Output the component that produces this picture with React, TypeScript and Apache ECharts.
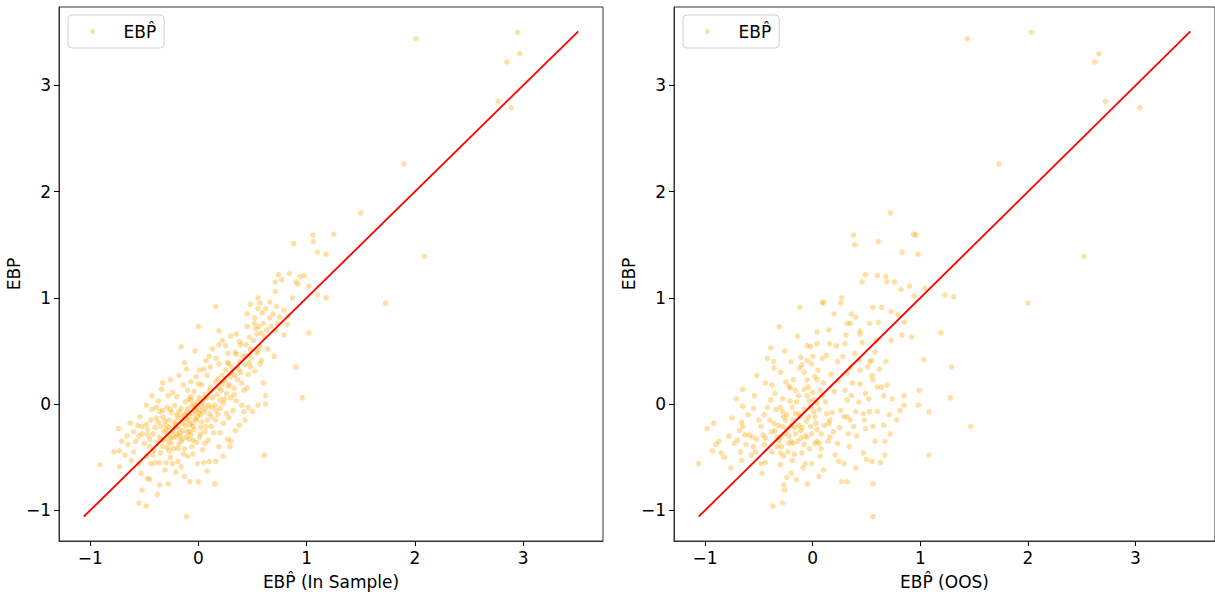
import React, { useEffect, useRef } from "react";
import * as echarts from "echarts";

const HAT = "EB" + "P\u0302";
const seriesName = HAT;
const xNames = [HAT + " (In Sample)", HAT + " (OOS)"];
const yName = "EBP";
const tickValues = [-1, 0, 1, 2, 3];
const axisMin = -1.2885;
const axisMax = 3.7385;
const lineEnds: [number, number][] = [[-1.06, -1.06], [3.51, 3.51]];

const inSamplePoints: [number, number][] = [
  [2.95,3.50],[2.01,3.44],[2.85,3.22],[2.97,3.30],[2.77,2.85],[2.89,2.79],[1.90,2.26],[1.50,1.80],[2.09,1.39],[1.73,0.95],
  [1.25,1.60],[1.06,1.59],[1.06,1.53],[0.88,1.51],[1.10,1.43],[1.18,1.41],[0.74,1.22],[0.84,1.23],[0.94,1.20],[0.98,1.21],
  [0.71,1.15],[0.77,1.17],[0.90,1.15],[0.92,1.13],[1.02,1.11],[0.71,1.06],[1.10,1.03],[1.18,1.00],[0.87,1.00],[0.55,1.00],
  [0.16,0.92],[0.48,0.94],[0.57,0.95],[0.55,0.90],[0.62,0.90],[0.72,0.92],[0.79,0.88],[0.59,0.86],[0.66,0.81],[0.52,0.81],
  [0.75,0.82],[0.83,0.83],[0.00,0.73],[0.45,0.73],[0.52,0.76],[0.56,0.73],[0.60,0.76],[0.53,0.71],[0.63,0.70],[0.67,0.73],
  [0.71,0.69],[0.47,0.63],[0.58,0.67],[0.79,0.65],[1.02,0.67],[0.19,0.69],[0.30,0.64],[-0.16,0.54],[-0.03,0.50],[0.19,0.56],
  [0.25,0.55],[0.38,0.59],[0.39,0.56],[0.44,0.56],[0.34,0.49],[0.35,0.47],[0.48,0.52],[0.55,0.50],[0.57,0.54],[0.44,0.46],
  [0.54,0.48],[-0.13,0.39],[0.10,0.45],[0.16,0.43],[0.07,0.41],[0.19,0.38],[0.27,0.39],[0.28,0.38],[0.38,0.40],[0.47,0.39],
  [0.48,0.35],[0.58,0.41],[0.90,0.35],[-0.11,0.33],[0.01,0.32],[0.11,0.35],[0.25,0.32],[0.31,0.30],[0.39,0.30],[0.46,0.28],
  [-0.18,0.27],[0.08,0.27],[0.22,0.27],[0.30,0.26],[0.36,0.23],[-0.26,0.23],[-0.07,0.21],[0.00,0.19],[0.16,0.21],[0.22,0.19],
  [-0.14,0.18],[0.03,0.18],[0.19,0.15],[0.27,0.17],[0.33,0.15],[0.42,0.13],[0.62,0.08],[-0.34,0.14],[-0.24,0.11],[-0.10,0.13],
  [-0.04,0.12],[0.10,0.12],[-0.43,0.08],[-0.20,0.07],[-0.07,0.07],[0.96,0.06],
  [-0.91,-0.57],[-0.78,-0.45],[-0.73,-0.44],[-0.74,-0.23],[-0.63,-0.18],[-0.54,-0.12],[-0.58,-0.35],[-0.65,-0.38],[-0.62,-0.53],[-0.73,-0.59],
  [-0.52,-0.21],[-0.48,-0.19],[-0.52,-0.28],[-0.47,-0.29],[-0.42,-0.28],[-0.39,-0.03],[-0.36,-0.07],[-0.29,-0.03],[-0.48,-0.01],[-0.33,-0.12],
  [-0.39,-0.13],[-0.27,-0.15],[-0.22,-0.17],[-0.35,-0.21],[-0.30,-0.24],[-0.24,-0.26],[-0.36,-0.31],[-0.31,-0.33],[-0.25,-0.37],[-0.21,-0.31],
  [-0.18,-0.23],[-0.15,-0.18],[-0.10,-0.15],[-0.13,-0.10],[-0.18,-0.07],[-0.10,-0.04],[-0.05,-0.09],[-0.02,-0.03],[0.01,-0.06],[-0.07,0.04],
  [-0.01,0.02],[0.04,0.01],[0.07,-0.04],[0.02,-0.10],[-0.02,-0.15],[-0.05,-0.21],[-0.08,-0.26],[-0.11,-0.31],[-0.16,-0.35],[-0.05,-0.34],
  [0.01,-0.31],[0.06,-0.37],[-0.19,-0.42],[-0.27,-0.44],[-0.35,-0.46],[-0.42,-0.48],[-0.48,-0.49],[-0.55,-0.56],[-0.44,-0.56],[-0.36,-0.55],
  [-0.30,-0.55],[-0.24,-0.56],[-0.19,-0.54],[-0.10,-0.49],[-0.01,-0.56],[0.05,-0.55],[0.10,-0.54],[0.16,-0.54],[0.23,-0.49],[0.29,-0.40],
  [0.30,-0.35],[0.38,-0.20],[0.43,-0.15],[0.50,-0.07],[0.55,-0.01],[-0.53,-0.65],[-0.47,-0.70],[-0.45,-0.71],[-0.52,-0.81],[-0.36,-0.76],
  [-0.21,-0.64],[-0.13,-0.68],[-0.08,-0.73],[0.00,-0.73],[0.15,-0.75],[-0.55,-0.93],[-0.48,-0.96],[-0.11,-1.06],[0.06,-0.26],[0.12,-0.21],
  [0.16,-0.15],[0.23,-0.18],[0.26,-0.09],[0.10,-0.09],[0.16,-0.06],[0.32,-0.06],[0.40,-0.01],[0.46,-0.03],[0.15,-0.01],[0.23,0.01],
  [0.62,0.00],[0.61,-0.48],[-0.71,-0.35],[0.42,-0.07],[0.27,-0.33],
  [-0.30,-0.20],[-0.28,-0.28],[-0.26,-0.32],[-0.22,-0.22],[-0.20,-0.28],[-0.17,-0.30],[-0.14,-0.25],[-0.12,-0.20],[-0.10,-0.26],[-0.08,-0.12],
  [-0.06,-0.18],[-0.03,-0.14],[0.00,-0.08],[0.03,-0.02],[0.05,0.05],[-0.04,0.00],[-0.15,-0.12],[-0.20,-0.10],[-0.25,-0.08],[-0.32,-0.26],
  [-0.38,-0.36],[-0.40,-0.22],[-0.33,-0.40],[-0.28,-0.36],[-0.18,-0.38],[-0.13,-0.42],[-0.06,-0.40],[0.02,-0.22],[0.08,-0.15],[0.12,-0.03],
  [0.20,0.04],[0.26,0.10],[0.30,0.06],[0.35,0.03],[0.18,-0.10],[-0.45,-0.40],[-0.55,-0.30],[-0.60,-0.45],[-0.43,-0.05],[0.08,0.06],
  [-0.45,-0.33],[-0.41,-0.44],[-0.37,-0.17],[-0.34,-0.34],[-0.31,-0.16],[-0.29,-0.41],[-0.27,-0.22],[-0.26,-0.05],[-0.24,-0.31],[-0.23,-0.42],
  [-0.21,-0.19],[-0.19,-0.13],[-0.17,-0.27],[-0.16,-0.04],[-0.15,-0.33],[-0.14,-0.47],[-0.12,-0.14],[-0.11,-0.08],[-0.09,-0.33],[-0.08,-0.19],
  [-0.07,-0.29],[-0.06,-0.02],[-0.04,-0.24],[-0.03,-0.06],[-0.02,-0.36],[-0.01,-0.12],[0.01,0.06],[0.02,-0.28],[0.03,-0.17],[0.05,-0.07],
  [0.06,0.09],[0.07,-0.21],[0.09,-0.01],[0.11,0.16],[0.12,-0.12],[0.13,0.06],[0.14,-0.27],[0.17,0.09],[0.18,0.24],[0.20,-0.04],
  [0.21,0.13],[0.24,0.05],[0.25,0.22],[0.28,-0.13],[0.29,0.18],[0.31,0.35],[0.33,0.09],[0.34,0.27],[0.37,0.33],[0.40,0.20],
  [0.41,0.45],[0.43,0.37],[0.45,0.15],[0.49,0.44],[0.51,0.60],[0.52,0.31],[0.54,0.66],[0.57,0.38],[0.61,0.63],[0.64,0.52],
  [0.66,0.96],[0.69,0.85],[0.73,0.76],[0.35,0.66],[0.27,0.48],[0.22,0.60],[0.13,0.52],[0.05,0.33],[-0.02,0.26],[-0.09,0.05],
  [-0.12,0.02],[-0.22,-0.01],[-0.28,0.08],[-0.33,-0.06],[-0.37,0.03],[-0.44,-0.15],[-0.47,-0.24],[-0.50,-0.37],[-0.56,-0.20],[-0.60,-0.26],
  [-0.66,-0.30],[-0.68,-0.48],[-0.40,-0.55],[-0.31,-0.62],[-0.26,-0.50],[-0.16,-0.59],[-0.05,-0.47],[0.04,-0.43],[0.09,-0.34],[0.19,-0.40],
  [0.20,-0.27],[0.34,-0.25],[-0.38,-0.85],[-0.28,-0.75],[0.08,-0.63],[-0.33,0.20],[0.60,0.20],[0.70,0.45],[0.82,0.75],[0.45,0.85]
];

const oosPoints: [number, number][] = [
  [2.03,3.50],[1.44,3.44],[2.66,3.30],[2.62,3.22],[2.72,2.85],[3.04,2.79],[1.73,2.26],[2.52,1.39],[2.00,0.95],[0.94,1.60],
  [0.96,1.59],[0.83,1.43],[0.98,1.41],[0.82,1.08],[0.90,1.11],[0.94,1.02],[1.04,1.09],[1.23,1.03],[1.31,1.01],[0.85,0.77],
  [0.83,0.65],[0.92,0.63],[1.19,0.67],[1.03,0.42],[1.29,0.35],[0.85,0.08],[0.99,0.13],[0.85,-0.01],[0.98,-0.01],[0.81,-0.06],
  [1.08,-0.07],[1.28,0.06],[1.47,-0.21],[1.08,-0.48],
  [0.72,1.80],[0.38,1.59],[0.39,1.50],[0.61,1.53],[0.49,1.22],[0.60,1.21],[0.68,1.20],[0.76,1.15],[0.79,0.84],
  [-1.06,-0.56],[-0.98,-0.23],[-0.92,-0.18],[-0.90,-0.38],[-0.87,-0.35],[-0.93,-0.44],[-0.85,-0.46],[-0.76,-0.60],[-0.75,-0.13],[-0.71,0.05],
  [-0.65,0.14],[-0.65,-0.02],[-0.73,-0.37],[-0.70,-0.34],[-0.66,-0.17],[-0.65,-0.21],[-0.63,-0.29],[-0.59,-0.29],[-0.56,-0.31],[-0.67,-0.45],
  [-0.66,-0.53],[-0.55,-0.40],[-0.53,-0.45],[-0.55,-0.04],[-0.54,0.08],[-0.52,0.27],[-0.47,-0.65],[-0.48,-0.56],[-0.44,-0.55],[-0.46,-0.29],
  [-0.44,-0.32],[-0.45,-0.38],[-0.48,-0.21],[-0.45,-0.10],[-0.42,-0.03],[-0.39,0.04],[-0.42,0.43],[-0.39,0.53],[-0.36,0.40],[-0.36,0.34],
  [-0.31,0.73],[-0.37,-0.96],[-0.28,-0.93],[-0.38,0.18],[-0.35,0.10],[-0.36,-0.18],[-0.38,-0.26],[-0.33,-0.31],[-0.33,-0.40],[-0.30,-0.46],
  [-0.27,-0.49],[-0.30,-0.57],[-0.26,0.50],[-0.25,0.21],[-0.22,0.17],[-0.21,0.15],[-0.30,-0.03],[-0.28,-0.07],[-0.27,-0.12],[-0.28,-0.21],
  [-0.24,-0.24],[-0.30,-0.31],[-0.31,-0.35],[-0.22,-0.37],[-0.19,-0.53],[-0.24,-0.69],[-0.27,-0.76],[-0.26,-0.81],[-0.15,-0.71],[-0.14,0.64],
  [-0.12,0.91],[-0.12,0.34],[-0.10,0.37],[-0.11,0.44],[-0.18,0.23],[-0.16,0.13],[-0.13,0.08],[-0.19,-0.03],[-0.16,-0.09],[-0.13,-0.09],
  [-0.18,-0.15],[-0.13,-0.20],[-0.16,-0.28],[-0.11,-0.32],[-0.18,-0.37],[-0.08,-0.38],[-0.10,-0.46],[-0.07,-0.56],[-0.05,0.23],[-0.04,0.16],
  [-0.05,0.55],[-0.02,0.54],[-0.05,0.41],[-0.01,0.38],[0.04,0.68],[0.04,0.57],[0.02,0.26],[0.04,0.23],[0.01,0.04],[0.04,0.01],
  [-0.02,-0.03],[0.01,-0.07],[-0.04,-0.12],[0.02,-0.12],[-0.02,-0.21],[0.04,-0.24],[-0.05,-0.31],[0.04,-0.35],[0.06,-0.37],[-0.01,-0.56],
  [0.07,-0.49],[0.06,-0.68],[0.09,0.43],[0.13,0.46],[0.09,0.95],[0.10,0.96],[0.07,0.13],[0.09,0.08],[0.13,-0.09],[0.16,-0.15],
  [0.15,-0.18],[0.16,-0.31],[0.19,-0.26],[0.23,-0.37],[0.16,0.57],[0.22,0.55],[0.23,0.40],[0.26,0.95],[0.27,1.00],[0.30,0.57],
  [0.32,0.29],[0.35,0.34],[0.30,0.13],[0.36,0.08],[0.32,0.04],[0.26,-0.06],[0.32,-0.12],[0.35,-0.15],[0.33,-0.28],[0.38,-0.21],
  [0.29,-0.56],[0.24,-0.54],[0.27,-0.73],[0.32,-0.73],[0.32,0.76],[0.35,0.76],[0.36,0.85],[0.40,0.82],[0.44,0.69],[0.44,0.66],
  [0.43,0.41],[0.44,0.32],[0.44,0.19],[0.49,0.10],[0.43,0.02],[0.40,-0.07],[0.47,-0.09],[0.49,-0.23],[0.47,-0.46],[0.50,-0.52],
  [0.53,0.40],[0.55,0.41],[0.58,0.49],[0.53,0.76],[0.56,0.91],[0.61,0.77],[0.64,0.91],[0.55,0.27],[0.56,0.23],[0.60,0.16],
  [0.53,-0.07],[0.56,-0.21],[0.60,-0.07],[0.55,-0.54],[0.56,-0.75],[0.56,-1.06],[0.64,0.16],[0.66,0.08],[0.69,0.18],[0.66,-0.20],
  [0.67,-0.35],[0.67,-0.48],[0.69,1.15],[0.46,1.15],[0.73,0.87],
  [-0.20,-0.20],[-0.25,-0.15],[-0.10,-0.22],[-0.08,-0.05],[-0.22,-0.30],[-0.35,-0.25],[-0.15,0.02],[0.08,-0.28],[-0.05,0.08],[-0.28,0.05],
  [-0.40,-0.15],[-0.38,-0.45],[-0.34,-0.05],[-0.32,-0.20],[-0.29,-0.40],[-0.26,-0.28],[-0.24,-0.10],[-0.23,-0.45],[-0.21,0.03],[-0.20,-0.35],
  [-0.17,-0.47],[-0.17,-0.22],[-0.14,-0.35],[-0.12,-0.12],[-0.11,-0.25],[-0.09,-0.60],[-0.08,0.14],[-0.07,-0.30],[-0.06,-0.16],[-0.03,-0.42],
  [-0.03,0.03],[-0.01,-0.28],[0.00,0.11],[0.02,-0.37],[0.03,-0.18],[0.05,0.32],[0.06,-0.05],[0.08,-0.42],[0.10,0.20],[0.11,-0.20],
  [0.12,0.02],[0.14,-0.35],[0.17,0.28],[0.18,-0.08],[0.20,0.12],[0.21,-0.48],[0.24,0.22],[0.25,-0.22],[0.28,0.45],[0.29,-0.12],
  [0.31,0.65],[0.34,-0.40],[0.37,0.20],[0.39,0.48],[0.41,-0.30],[0.46,0.58],[0.48,-0.15],[0.51,0.35],[0.52,0.05],[0.58,-0.35],
  [0.59,0.60],[0.62,0.33],[0.63,-0.55],[0.68,0.40],[0.71,-0.10],[0.73,0.60],[-0.50,-0.15],[-0.52,-0.33],[-0.57,-0.48],[-0.60,-0.10],
  [-0.62,-0.38],[-0.68,-0.25],[-0.78,-0.30],[-0.82,-0.50],[-0.44,0.20],[-0.30,0.30],[-0.20,0.40],[-0.08,0.30],[0.00,0.45],[0.15,0.70],
  [0.20,0.85],[-0.20,-0.65],[-0.05,-0.75],[0.10,-0.62],[0.40,-0.60],[0.74,0.05],[0.78,-0.15],[0.72,-0.28]
];

const FONT = "DejaVu Sans";
const grids = [
  { left: 59, top: 7, width: 544, height: 534 },
  { left: 674, top: 7, width: 542, height: 534 },
];
const legendLefts = [68, 683];

export default function App() {
  const ref = useRef<HTMLDivElement>(null);
  useEffect(() => {
    if (!ref.current) return;
    const chart = echarts.init(ref.current, null, { renderer: "svg" });
    const fmt = (v: number) => String(v).replace("-", "\u2212");
    const axisCommon = {
      type: "value" as const,
      min: axisMin,
      max: axisMax,
      splitLine: { show: false },
      axisLine: { show: true, onZero: false, lineStyle: { color: "#333", width: 1 } },
      axisTick: { show: true, inside: false, length: 5, customValues: tickValues, lineStyle: { color: "#000", width: 1 } },
      nameTextStyle: { fontFamily: FONT, fontSize: 17, color: "#000" },
    };
    const labelStyle = { customValues: tickValues, formatter: fmt, fontFamily: FONT, fontSize: 17, color: "#000", margin: 8 };
    const datasets = [inSamplePoints, oosPoints];
    const option: any = {
      animation: false,
      backgroundColor: "#fff",
      grid: grids.map((g) => ({ ...g, show: true, borderColor: "#333", borderWidth: 1, backgroundColor: "transparent", containLabel: false })),
      legend: legendLefts.map((l) => ({
        left: l,
        top: 15,
        data: [seriesName],
        icon: "circle",
        itemWidth: 10,
        itemHeight: 5,
        padding: [8, 8, 8, 22],
        backgroundColor: "rgba(255,255,255,0.9)",
        borderColor: "#d0d0d0",
        borderWidth: 1,
        borderRadius: 4,
        formatter: (name: string) => "{g| }{t|" + name + "}",
        textStyle: {
          fontFamily: FONT,
          fontSize: 17,
          color: "#000",
          rich: {
            g: { width: 21, fontSize: 17, fontFamily: FONT },
            t: { fontSize: 17, fontFamily: FONT, color: "#000" },
          },
        },
      })),
      xAxis: xNames.map((n, i) => ({
        ...axisCommon,
        gridIndex: i,
        name: n,
        nameLocation: "middle",
        nameGap: 32,
        axisLabel: labelStyle,
      })),
      yAxis: xNames.map((_, i) => ({
        ...axisCommon,
        gridIndex: i,
        name: yName,
        nameLocation: "middle",
        nameGap: 34,
        axisLabel: labelStyle,
      })),
      series: [
        ...datasets.map((d, i) => ({
          type: "scatter",
          name: seriesName,
          xAxisIndex: i,
          yAxisIndex: i,
          data: d,
          symbolSize: 5.5,
          itemStyle: { color: "rgba(255,165,0,0.45)" },
          z: 2,
        })),
        ...datasets.map((_, i) => ({
          type: "line",
          name: "fit",
          xAxisIndex: i,
          yAxisIndex: i,
          data: lineEnds,
          symbol: "none",
          lineStyle: { color: "#ff0000", width: 1.8 },
          z: 3,
        })),
      ],
    };
    chart.setOption(option);
    return () => chart.dispose();
  }, []);
  return <div ref={ref} style={{ position: "absolute", left: 0, top: 0, width: 1215, height: 597 }} />;
}
